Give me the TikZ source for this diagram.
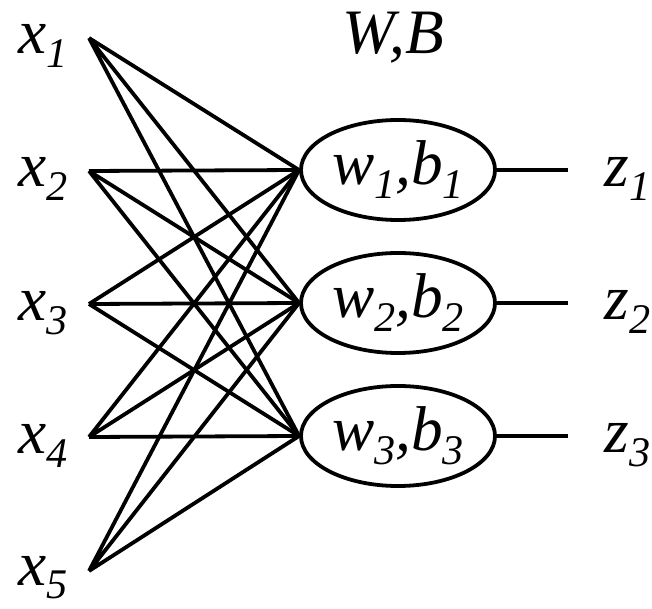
\documentclass[tikz,border=0pt]{standalone}
\usepackage{fontspec}
\setmainfont{Liberation Serif}[ItalicFont={Liberation Serif Italic}]
\usetikzlibrary{shapes.geometric}
\newcommand{\lowidx}[1]{\raisebox{-0.22em}{\fontsize{30}{32}\selectfont #1}}

\begin{document}
\begin{tikzpicture}[x=0.025cm,y=-0.025cm,line width=2.7pt,
    every node/.style={font=\fontsize{45}{52}\selectfont\itshape,inner sep=0pt},
    unit/.style={draw,ellipse,minimum width=4.85cm,minimum height=2.5cm}]
  \useasboundingbox (0,0) rectangle (652,609);
  \coordinate (in1) at (89,38);
  \coordinate (in2) at (89,171);
  \coordinate (in3) at (89,304);
  \coordinate (in4) at (89,437);
  \coordinate (in5) at (89,571);
  \node[anchor=base west] (x1) at (17,54)  {x\lowidx{1}};
  \node[anchor=base west] (x2) at (17,187) {x\lowidx{2}};
  \node[anchor=base west] (x3) at (17,321) {x\lowidx{3}};
  \node[anchor=base west] (x4) at (17,454) {x\lowidx{4}};
  \node[anchor=base west] (x5) at (17,585) {x\lowidx{5}};
  \node[unit] (h1) at (398,170) {w\lowidx{1},b\lowidx{1}};
  \node[unit] (h2) at (398,303) {w\lowidx{2},b\lowidx{2}};
  \node[unit] (h3) at (398,436) {w\lowidx{3},b\lowidx{3}};
  \node[anchor=base] (WB) at (393,54) {W,B};
  \coordinate (out1) at (568,170);
  \coordinate (out2) at (568,303);
  \coordinate (out3) at (568,436);
  \node[anchor=base west] (z1) at (603,187) {z\lowidx{1}};
  \node[anchor=base west] (z2) at (603,320) {z\lowidx{2}};
  \node[anchor=base west] (z3) at (603,453) {z\lowidx{3}};
  \draw (in1) -- (h1.west) (in1) -- (h2.west) (in1) -- (h3.west);
  \draw (in2) -- (h1.west) (in2) -- (h2.west) (in2) -- (h3.west);
  \draw (in3) -- (h1.west) (in3) -- (h2.west) (in3) -- (h3.west);
  \draw (in4) -- (h1.west) (in4) -- (h2.west) (in4) -- (h3.west);
  \draw (in5) -- (h1.west) (in5) -- (h2.west) (in5) -- (h3.west);
  \draw (h1) -- (out1);
  \draw (h2) -- (out2);
  \draw (h3) -- (out3);
\end{tikzpicture}
\end{document}
